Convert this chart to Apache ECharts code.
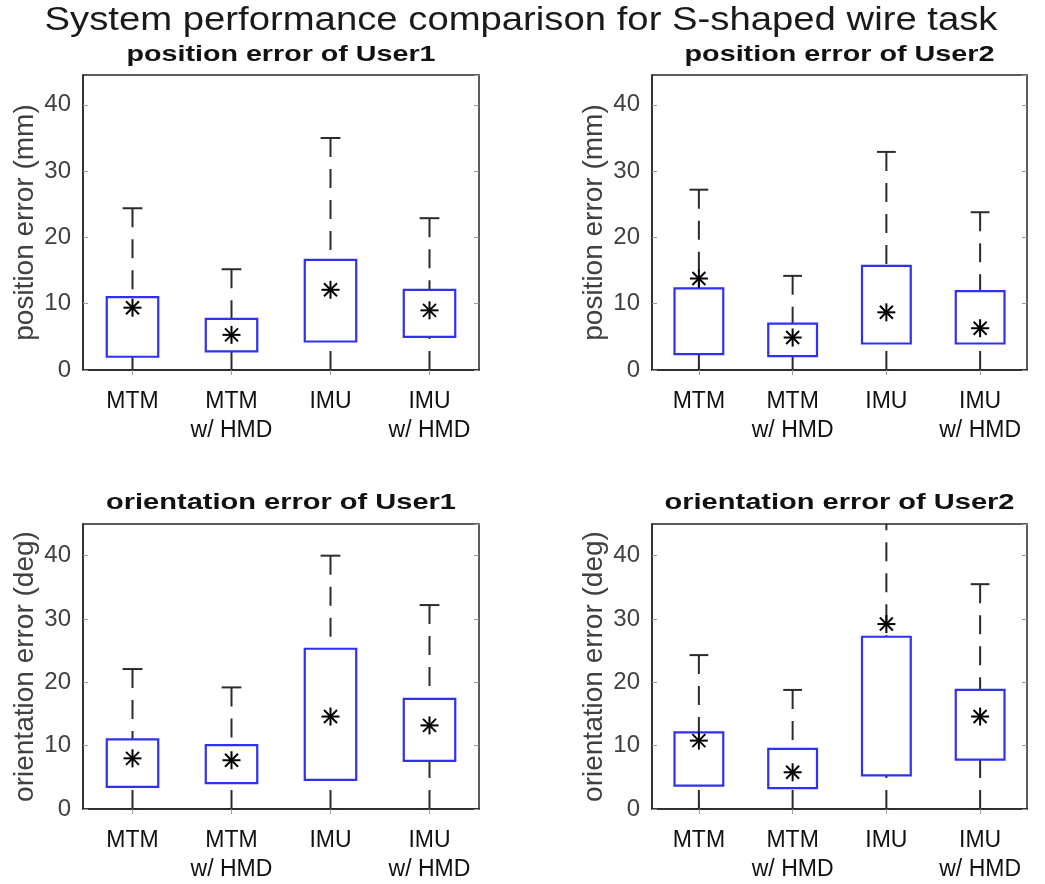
<!DOCTYPE html>
<html>
<head>
<meta charset="utf-8">
<script src="https://cdn.jsdelivr.net/npm/echarts@6/dist/echarts.min.js"></script>
<style>
  html, body { margin: 0; padding: 0; background: #fff; }
  #chart01 { width: 1045px; height: 884px; }
</style>
</head>
<body>
<div id="chart01"></div>
<script>
// categories on every x axis
var categories = ['MTM', 'MTM\nw/ HMD', 'IMU', 'IMU\nw/ HMD'];

// position error of User1 (mm)
var posU1Low  = [0, 0, 0, 0];
var posU1Q1   = [2.0, 2.8, 4.3, 5.0];
var posU1Q3   = [11.0, 7.7, 16.6, 12.1];
var posU1High = [24.4, 15.2, 35.0, 22.9];
var posU1Mean = [9.4, 5.3, 12.1, 9.0];

// position error of User2 (mm)
var posU2Low  = [0, 0, 0, 0];
var posU2Q1   = [2.4, 2.1, 4.0, 4.0];
var posU2Q3   = [12.3, 7.0, 15.7, 11.9];
var posU2High = [27.2, 14.2, 32.9, 23.8];
var posU2Mean = [13.8, 4.9, 8.7, 6.3];

// orientation error of User1 (deg)
var oriU1Low  = [0, 0, 0, 0];
var oriU1Q1   = [3.5, 4.1, 4.6, 7.6];
var oriU1Q3   = [11.0, 10.1, 25.3, 17.4];
var oriU1High = [22.1, 19.2, 40.0, 32.2];
var oriU1Mean = [8.0, 7.7, 14.6, 13.2];

// orientation error of User2 (deg)
var oriU2Low  = [0, 0, 0, 0];
var oriU2Q1   = [3.7, 3.3, 5.3, 7.8];
var oriU2Q3   = [12.1, 9.5, 27.2, 18.8];
var oriU2High = [24.3, 18.8, 47.0, 35.5];
var oriU2Mean = [10.8, 5.8, 29.2, 14.6];

var yTickLabels = [0, 10, 20, 30, 40];

var FONT = '"Liberation Sans", Arial, sans-serif';
var mainTitle = 'System performance comparison for S-shaped wire task';

var panels = [
    { title: 'position error of User1', yName: 'position error (mm)', left: 83, top: 75, width: 396, height: 295, ymax: 44.5,
      low: posU1Low, q1: posU1Q1, q3: posU1Q3, high: posU1High, mean: posU1Mean, titleWidth: 309, titleY: 55 },
    { title: 'position error of User2', yName: 'position error (mm)', left: 652, top: 75, width: 375, height: 295, ymax: 44.5,
      low: posU2Low, q1: posU2Q1, q3: posU2Q3, high: posU2High, mean: posU2Mean, titleWidth: 310, titleY: 55 },
    { title: 'orientation error of User1', yName: 'orientation error (deg)', left: 83, top: 524, width: 396, height: 286, ymax: 45,
      low: oriU1Low, q1: oriU1Q1, q3: oriU1Q3, high: oriU1High, mean: oriU1Mean, titleWidth: 350, titleY: 503 },
    { title: 'orientation error of User2', yName: 'orientation error (deg)', left: 652, top: 524, width: 375, height: 286, ymax: 45,
      low: oriU2Low, q1: oriU2Q1, q3: oriU2Q3, high: oriU2High, mean: oriU2Mean, titleWidth: 350, titleY: 503 }
];

function textScale(text, font, target) {
    var ctx = document.createElement('canvas').getContext('2d');
    ctx.font = font;
    return target / ctx.measureText(text).width;
}

function renderBox(params, api) {
    var i = api.value(0);
    var band = api.size([1, 0])[0];
    var half = band * 0.26, cap = band * 0.1;
    var pLo = api.coord([i, api.value(1)]);
    var pQ1 = api.coord([i, api.value(2)]);
    var pQ3 = api.coord([i, api.value(3)]);
    var pHi = api.coord([i, api.value(4)]);
    var x = pQ1[0];
    var dash = { stroke: '#2b2b2b', lineWidth: 2, lineDash: [19, 12] };
    var solid = { stroke: '#2b2b2b', lineWidth: 2 };
    return {
        type: 'group',
        children: [
            { type: 'line', shape: { x1: x, y1: pHi[1], x2: x, y2: pQ3[1] }, style: dash },
            { type: 'line', shape: { x1: x, y1: pLo[1], x2: x, y2: pQ1[1] }, style: dash },
            { type: 'line', shape: { x1: x - cap, y1: pHi[1], x2: x + cap, y2: pHi[1] }, style: solid },
            { type: 'line', shape: { x1: x - cap, y1: pLo[1], x2: x + cap, y2: pLo[1] }, style: solid },
            { type: 'rect', shape: { x: x - half, y: pQ3[1], width: half * 2, height: pQ1[1] - pQ3[1] },
              style: { fill: 'none', stroke: '#3030f0', lineWidth: 2.2 } }
        ]
    };
}

function renderMean(params, api) {
    var p = api.coord([api.value(0), api.value(1)]);
    var r = 9, d = 6.5;
    var st = { stroke: '#000', lineWidth: 2 };
    return {
        type: 'group',
        children: [
            { type: 'line', shape: { x1: p[0], y1: p[1] - r, x2: p[0], y2: p[1] + r }, style: st },
            { type: 'line', shape: { x1: p[0] - r, y1: p[1], x2: p[0] + r, y2: p[1] }, style: st },
            { type: 'line', shape: { x1: p[0] - d, y1: p[1] - d, x2: p[0] + d, y2: p[1] + d }, style: st },
            { type: 'line', shape: { x1: p[0] - d, y1: p[1] + d, x2: p[0] + d, y2: p[1] - d }, style: st }
        ]
    };
}

var grids = [], xAxes = [], yAxes = [], series = [];
var tickStyle = { show: true, inside: true, length: 5, lineStyle: { color: '#9a9a9a', width: 1 } };
var graphics = [{
    type: 'text', x: 521, y: 21,
    scaleX: textScale(mainTitle, '33px ' + FONT, 953),
    style: { text: mainTitle, font: '33px ' + FONT, fill: '#1a1a1a', align: 'center', verticalAlign: 'middle' }
}];

panels.forEach(function (p, k) {
    grids.push({ left: p.left, top: p.top, width: p.width, height: p.height, show: true,
                 borderColor: '#262626', borderWidth: 1.5, backgroundColor: 'transparent' });
    // bottom labelled axis and top tick-only axis
    xAxes.push({
        type: 'category', gridIndex: k, data: categories, boundaryGap: true,
        axisLine: { lineStyle: { color: '#262626', width: 1.5 } },
        axisTick: Object.assign({ alignWithLabel: true }, tickStyle),
        axisLabel: { color: '#111', fontFamily: FONT, fontSize: 23, lineHeight: 29, margin: 17, interval: 0 }
    });
    xAxes.push({
        type: 'category', gridIndex: k, data: categories, position: 'top', boundaryGap: true,
        axisLine: { show: false }, axisTick: Object.assign({ alignWithLabel: true }, tickStyle), axisLabel: { show: false }
    });
    yAxes.push({
        type: 'value', gridIndex: k, min: 0, max: p.ymax, interval: 10,
        name: p.yName, nameLocation: 'middle', nameGap: 44,
        nameTextStyle: { color: '#404040', fontFamily: FONT, fontSize: 28 },
        axisLine: { show: true, lineStyle: { color: '#262626', width: 1.5 } },
        axisTick: tickStyle, splitLine: { show: false },
        axisLabel: { color: '#404040', fontFamily: FONT, fontSize: 24, margin: 12, showMaxLabel: false,
                     formatter: function (v) { return yTickLabels.indexOf(v) >= 0 ? String(v) : ''; } }
    });
    yAxes.push({
        type: 'value', gridIndex: k, min: 0, max: p.ymax, interval: 10, position: 'right',
        axisLine: { show: false }, axisTick: tickStyle, splitLine: { show: false }, axisLabel: { show: false }
    });
    series.push({
        type: 'custom', xAxisIndex: k * 2, yAxisIndex: k * 2, clip: true, z: 2,
        renderItem: renderBox, encode: { x: 0, y: [1, 2, 3, 4] },
        data: categories.map(function (c, i) { return [i, p.low[i], p.q1[i], p.q3[i], p.high[i]]; })
    });
    series.push({
        type: 'custom', xAxisIndex: k * 2, yAxisIndex: k * 2, clip: true, z: 3,
        renderItem: renderMean, encode: { x: 0, y: 1 },
        data: categories.map(function (c, i) { return [i, p.mean[i]]; })
    });
    var sf = 'bold 22px ' + FONT;
    graphics.push({
        type: 'text', x: p.left + p.width / 2, y: p.titleY,
        scaleX: textScale(p.title, sf, p.titleWidth),
        style: { text: p.title, font: sf, fill: '#111', align: 'center', verticalAlign: 'middle' }
    });
});

var myChart = echarts.init(document.getElementById('chart01'));
var option = {
    backgroundColor: '#fff',
    animation: false,
    grid: grids,
    xAxis: xAxes,
    yAxis: yAxes,
    series: series,
    graphic: graphics
};
if (option && typeof option === "object") {
    myChart.setOption(option, true);
}
</script>
</body>
</html>
